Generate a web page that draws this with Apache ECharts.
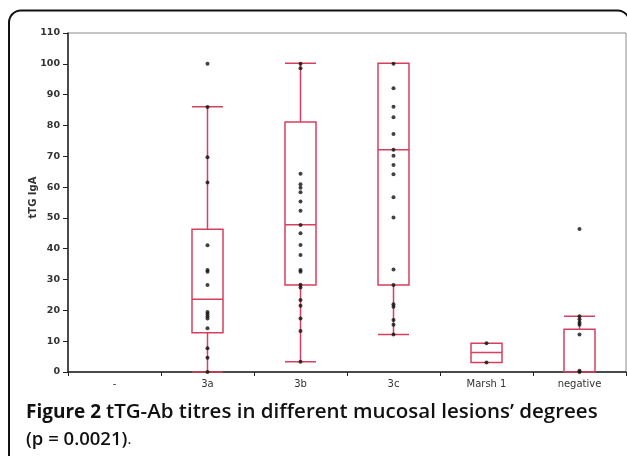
<!DOCTYPE html>
<html>
<head>
<meta charset="utf-8">
<script src="https://cdn.jsdelivr.net/npm/echarts@6/dist/echarts.min.js"></script>
<style>
html,body{margin:0;padding:0;background:#fff;}
#c{width:627px;height:456px;}
</style>
</head>
<body>
<div id="c"></div>
<script>
var categories = ['-', '3a', '3b', '3c', 'Marsh 1', 'negative'];
var yTicks = [0, 10, 20, 30, 40, 50, 60, 70, 80, 90, 100, 110];

// box stats: [min, Q1, median, Q3, max]
var box3a = [0, 12.7, 23.6, 46.3, 86.1];
var box3b = [3.3, 28.2, 47.8, 81.1, 100.2];
var box3c = [12.2, 28.2, 72.1, 100.2, 100.2];
var boxMarsh1 = [3.1, 3.1, 6.3, 9.3, 9.3];
var boxNegative = [0, 0, 0, 13.9, 18.1];

// individual observations
var pts3a = [100, 86, 69.7, 61.5, 41.1, 33.1, 32.5, 28.2, 19.5, 18.8, 18.1, 17.4, 14.2, 7.7, 4.6, 0];
var pts3b = [100, 98.6, 64.3, 60.9, 59.8, 58.3, 55.3, 52.3, 47.7, 45.0, 41.2, 38.0, 33.1, 32.5, 28.3, 27.4, 23.4, 21.5, 17.4, 13.3, 3.3];
var pts3c = [100, 92.1, 86.1, 82.7, 77.2, 72.1, 70.2, 67.2, 64.2, 56.7, 50.1, 33.3, 28.2, 22.0, 21.2, 16.9, 15.3, 12.2];
var ptsMarsh1 = [9.3, 3.1];
var ptsNegative = [46.4, 18.1, 17.1, 16.1, 15.3, 12.2, 0.4, 0];

var boxData = ['-', box3a, box3b, box3c, boxMarsh1, boxNegative];
var ptsByCat = [[], pts3a, pts3b, pts3c, ptsMarsh1, ptsNegative];

var red = '#d6405e';
var scatterData = [];
ptsByCat.forEach(function (arr, i) {
  arr.forEach(function (v) { scatterData.push([categories[i], v]); });
});

var chart = echarts.init(document.getElementById('c'), null, {renderer: 'canvas'});
chart.setOption({
  animation: false,
  backgroundColor: '#fff',
  grid: {left: 68, right: 1, top: 33, bottom: 84, show: true, borderColor: '#8a8a8a', borderWidth: 1, backgroundColor: 'transparent'},
  xAxis: {
    type: 'category',
    data: categories,
    boundaryGap: true,
    axisLine: {lineStyle: {color: '#222', width: 1.5}},
    axisTick: {show: true, inside: false, length: 4, alignWithLabel: false, lineStyle: {color: '#222'}},
    axisLabel: {color: '#333', fontFamily: 'DejaVu Sans', fontSize: 10, margin: 7, interval: 0},
    splitLine: {show: false}
  },
  yAxis: {
    type: 'value',
    min: 0, max: 110, interval: 10,
    name: 'tTG IgA',
    nameLocation: 'middle',
    nameRotate: 90,
    nameGap: 30,
    nameMoveOverlap: false,
    nameTextStyle: {color: '#333', fontFamily: 'DejaVu Sans', fontSize: 10, fontWeight: 'bold', padding: [0, 0, 0, 10]},
    axisLine: {show: true, lineStyle: {color: '#222', width: 1.5}},
    axisTick: {show: true, length: 5, lineStyle: {color: '#222'}},
    axisLabel: {color: '#333', fontFamily: 'DejaVu Sans', fontSize: 9.5, fontWeight: 'bold', margin: 8,
      formatter: function (v) { return yTicks.indexOf(v) >= 0 ? String(v) : ''; }},
    splitLine: {show: false}
  },
  series: [
    {
      type: 'boxplot',
      data: boxData,
      boxWidth: [31, 31],
      itemStyle: {color: 'transparent', borderColor: red, borderWidth: 1.5},
      emphasis: {disabled: true}
    },
    {
      type: 'scatter',
      data: scatterData,
      symbol: 'circle',
      symbolSize: 4,
      itemStyle: {color: '#111'},
      z: 5
    }
  ],
  graphic: [
    {
      type: 'rect',
      shape: {x: 9, y: 10.5, width: 620.5, height: 520, r: 12},
      style: {fill: 'none', stroke: '#111', lineWidth: 2},
      silent: true, z: 100
    },
    {
      type: 'text',
      left: 26, top: 399,
      style: {
        text: '{b|Figure 2} {n|tTG-Ab titres in different mucosal lesions\u2019 degrees}\n{m|(p = 0.0021)}{s|.}',
        fontFamily: 'Open Sans',
        fontSize: 19,
        lineHeight: 27,
        fill: '#111',
        rich: {
          b: {fontFamily: 'Open Sans', fontSize: 19, fontWeight: 'bold', fill: '#111', lineHeight: 27},
          n: {fontFamily: 'Open Sans', fontSize: 20.5, fontWeight: 600, fill: '#111', lineHeight: 27},
          m: {fontFamily: 'Open Sans', fontSize: 18.5, fontWeight: 600, fill: '#111', lineHeight: 27},
          s: {fontFamily: 'Open Sans', fontSize: 15, fontWeight: 'normal', fill: '#111', lineHeight: 27}
        }
      },
      silent: true, z: 100
    }
  ]
});
</script>
</body>
</html>
